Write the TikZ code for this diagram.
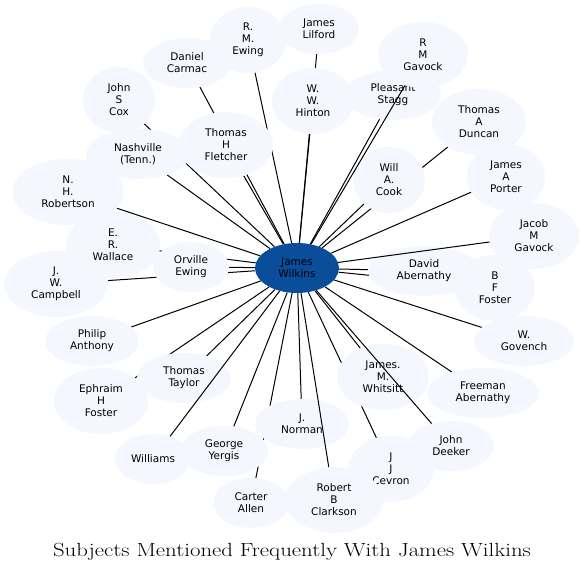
\documentclass[tikz,border=0pt]{standalone}
\usepackage{graphicx}
\usepackage{fontspec}
\newfontfamily\namefont{DejaVu Sans}
\usetikzlibrary{shapes.geometric, backgrounds}
\definecolor{pale}{RGB}{244,248,254}
\definecolor{hubblue}{RGB}{10,77,155}

\begin{document}
\begin{tikzpicture}[x=1pt, y=-1pt,
  every node/.style={font=\namefont\fontsize{10.5}{12}\selectfont},
  n/.style={ellipse, fill=pale, align=center, inner sep=0pt, minimum height=50pt, minimum width=#1},
  m/.style={n=#1, minimum height=66pt},
  hub/.style={ellipse, fill=hubblue, align=center, inner sep=0pt, minimum width=84pt, minimum height=50pt},
  a/.style={line width=1pt}]
\useasboundingbox (0,0) rectangle (584,571);
\node[hub] (jw) at (297,268) {James\\ Wilkins};
% outer ring
\node[n=80] (lilford) at (319,29)    {James\\ Lilford};
\node[m=76] (ewing) at (248,40)      {R.\\ M.\\ Ewing};
\node[n=88] (carmac) at (187,63)     {Daniel\\ Carmac};
\node[m=72] (cox) at (119,100)       {John\\ S\\ Cox};
\node[m=82] (hinton) at (313,101)    {W.\\ W.\\ Hinton};
\node[n=96] (stagg) at (393,95)      {Pleasant\\ Stagg};
\node[m=90] (gavock) at (423,55)     {R\\ M\\ Gavock};
\node[m=94] (duncan) at (479,122)    {Thomas\\ A\\ Duncan};
\node[n=104] (nash) at (138,154)     {Nashville\\ (Tenn.)};
\node[m=94] (fletcher) at (226,145)  {Thomas\\ H\\ Fletcher};
\node[m=72] (cook) at (389,180)      {Will\\ A.\\ Cook};
\node[m=78] (porter) at (506,177)    {James\\ A\\ Porter};
\node[m=112] (robertson) at (68,192) {N.\\ H.\\ Robertson};
\node[m=94] (wallace) at (113,245)   {E.\\ R.\\ Wallace};
\node[n=112] (david) at (424,271)    {David\\ Abernathy};
\node[m=80] (bfoster) at (495,288)   {B\\ F\\ Foster};
\node[m=90] (jacob) at (534,236)     {Jacob\\ M\\ Gavock};
\node[m=104] (campbell) at (56,284)  {J.\\ W.\\ Campbell};
\node[n=76] (orville) at (191,267)   {Orville\\ Ewing};
\node[n=94] (anthony) at (92,341)    {Philip\\ Anthony};
\node[n=100] (govench) at (524,341)  {W.\\ Govench};
\node[m=94] (ephraim) at (101,401)   {Ephraim\\ H\\ Foster};
\node[n=94] (taylor) at (184,378)    {Thomas\\ Taylor};
\node[m=92] (whitsitt) at (383,377)  {James.\\ M.\\ Whitsitt};
\node[n=112] (freeman) at (483,393)  {Freeman\\ Abernathy};
\node[n=94] (norman) at (302,424)    {J.\\ Norman};
\node[n=86] (deeker) at (451,446)    {John\\ Deeker};
\node[n=76] (williams) at (153,459)  {Williams};
\node[n=88] (yergis) at (224,451)    {George\\ Yergis};
\node[m=86] (cevron) at (391,469)    {J\\ J\\ Cevron};
\node[m=98] (clarkson) at (334,500)  {Robert\\ B\\ Clarkson};
\node[n=76] (allen) at (251,503)     {Carter\\ Allen};
% spokes under the nodes
\begin{scope}[on background layer]
\draw[a] (jw) -- (lilford);
\draw[a] (jw) -- (ewing);
\draw[a] (jw) -- (carmac);
\draw[a] (jw) -- (cox);
\draw[a] (jw) -- (hinton);
\draw[a] (jw) -- (stagg);
\draw[a] (jw) -- (duncan);
\draw[a] (jw) -- (nash);
\draw[a] (jw) -- (fletcher);
\draw[a] (jw) -- (cook);
\draw[a] (jw) -- (porter);
\draw[a] (jw) -- (robertson);
\draw[a] (jw) -- (wallace);
\draw[a] (jw) -- (david);
\draw[a] (jw) -- (bfoster);
\draw[a] (jw) -- (campbell);
\draw[a] (jw) -- (orville);
\draw[a] (jw) -- (anthony);
\draw[a] (jw) -- (govench);
\draw[a] (jw) -- (ephraim);
\draw[a] (jw) -- (taylor);
\draw[a] (jw) -- (whitsitt);
\draw[a] (jw) -- (freeman);
\draw[a] (jw) -- (norman);
\draw[a] (jw) -- (yergis);
\draw[a] (jw) -- (cevron);
\draw[a] (jw) -- (allen);
\end{scope}
% spokes drawn over other nodes
\draw[a] (jw) -- (gavock);
\draw[a] (jw) -- (jacob);
\draw[a] (jw) -- (deeker);
\draw[a] (jw) -- (clarkson);
\draw[a] (jw) -- (williams);
\node[anchor=base, font=\rmfamily\fontsize{19}{22}\selectfont] (title) at (292,556)
  {\scalebox{1.2}[1]{Subjects Mentioned Frequently With James Wilkins}};
\end{tikzpicture}
\end{document}
